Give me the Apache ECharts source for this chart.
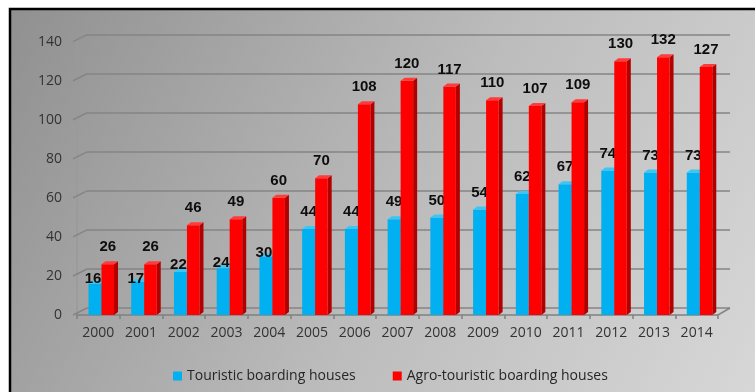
<!DOCTYPE html>
<html>
<head>
<meta charset="utf-8">
<style>
  html, body { margin: 0; padding: 0; background: #ffffff; }
  #chart { width: 755px; height: 392px; }
</style>
<script src="https://cdn.jsdelivr.net/npm/echarts@6/dist/echarts.min.js"></script>
</head>
<body>
<div id="chart"></div>
<script>
// Boarding houses per year
const years = ['2000', '2001', '2002', '2003', '2004', '2005', '2006', '2007',
               '2008', '2009', '2010', '2011', '2012', '2013', '2014'];
const touristic = [16, 17, 22, 24, 30, 44, 44, 49, 50, 54, 62, 67, 74, 73, 73];
const agro = [26, 26, 46, 49, 60, 70, 108, 120, 117, 110, 107, 109, 130, 132, 127];
const yTicks = [0, 20, 40, 60, 80, 100, 120, 140];
const seriesNames = ['Touristic boarding houses', 'Agro-touristic boarding houses'];

// Pseudo-3D look: depth of the bars and of the back wall, in pixels
const BAR_DX = 4, BAR_DY = 3;
const WALL_DX = 10, WALL_DY = 7;

// Label lift above the bar top (px); the first few blue labels sit lower
const blueLift = [5, 3, 7, 5, 4];
const DEFAULT_LIFT = 17;

const UI_FONT = '"Open Sans", "Liberation Sans", sans-serif';
const LABEL_FONT = 'bold 15px "Liberation Sans", Arial, sans-serif';

// Bar renderer: front face, right side face, top face and value label
function makeBarRenderer(opts) {
  return function (params, api) {
    const cat = api.value(0);
    const val = api.value(1);
    const base = api.coord([cat, 0]);
    const top = api.coord([cat, val]);
    const band = api.size([1, 0])[0];
    const start = base[0] - band / 2;
    const x0 = start + band * opts.from;
    const x1 = start + band * opts.to;
    const yb = base[1];
    const yt = top[1];
    const lift = opts.lift(params.dataIndex);
    return {
      type: 'group',
      children: [
        {
          type: 'polygon',
          shape: { points: [[x1, yt], [x1 + BAR_DX, yt - BAR_DY], [x1 + BAR_DX, yb - BAR_DY], [x1, yb]] },
          style: { fill: opts.side }
        },
        {
          type: 'rect',
          shape: { x: x0, y: yt, width: x1 - x0, height: yb - yt },
          style: { fill: opts.front }
        },
        {
          type: 'polygon',
          shape: { points: [[x0, yt], [x1, yt], [x1 + BAR_DX, yt - BAR_DY], [x0 + BAR_DX, yt - BAR_DY]] },
          style: { fill: opts.top }
        },
        {
          type: 'text',
          style: {
            text: String(val),
            x: (x0 + x1) / 2 + opts.labelDx(params.dataIndex),
            y: yt - lift,
            align: 'center',
            verticalAlign: 'middle',
            font: LABEL_FONT,
            fill: '#0d0d0d'
          },
          z2: 10
        }
      ]
    };
  };
}

// Side-wall stubs joining each y tick to the back-wall gridline, plus the floor edge
function renderFrame(params, api) {
  const cs = params.coordSys;
  const v = api.value(1);
  const p = api.coord([0, v]);
  const lineStyle = { stroke: '#858585', lineWidth: 1.5 };
  const children = [{
    type: 'line',
    shape: { x1: cs.x - 4, y1: p[1], x2: cs.x + WALL_DX, y2: p[1] - WALL_DY },
    style: lineStyle
  }];
  if (v === 0) {
    children.push({
      type: 'line',
      shape: { x1: cs.x + cs.width, y1: p[1], x2: cs.x + cs.width + WALL_DX + 2, y2: p[1] - WALL_DY },
      style: lineStyle
    });
  }
  return { type: 'group', children: children };
}

const chart = echarts.init(document.getElementById('chart'));

const bgGradient = new echarts.graphic.LinearGradient(0, 0, 1, 1, [
  { offset: 0, color: '#909090' },
  { offset: 0.5, color: '#bcbcbc' },
  { offset: 1, color: '#dcdcdc' }
]);

const option = {
  animation: false,
  backgroundColor: '#ffffff',
  graphic: [
    {
      type: 'rect',
      z: -100,
      silent: true,
      shape: { x: 10, y: 9, width: 800, height: 420 },
      style: { fill: bgGradient, stroke: '#000000', lineWidth: 2.5 }
    }
  ],
  grid: [
    { left: 77, right: 37, top: 41.7, bottom: 77 },
    { left: 77 + WALL_DX, right: 37 - WALL_DX - 2, top: 41.7 - WALL_DY, bottom: 77 + WALL_DY }
  ],
  legend: {
    data: seriesNames,
    left: 168,
    top: 364,
    icon: 'rect',
    itemWidth: 9,
    itemHeight: 9,
    itemGap: 37,
    textStyle: { fontFamily: UI_FONT, fontSize: 14, color: '#262626' }
  },
  xAxis: [
    {
      gridIndex: 0,
      type: 'category',
      data: years,
      axisLine: { show: true, lineStyle: { color: '#808080', width: 1.5 } },
      axisTick: { show: true, length: 4, lineStyle: { color: '#808080', width: 1.5 } },
      axisLabel: { margin: 11, fontFamily: UI_FONT, fontSize: 14, color: '#333333' },
      splitLine: { show: false }
    },
    {
      gridIndex: 1,
      type: 'category',
      data: years,
      show: false
    }
  ],
  yAxis: [
    {
      gridIndex: 0,
      type: 'value',
      min: 0,
      max: 140,
      interval: 20,
      axisLine: { show: true, lineStyle: { color: '#9a9a9a', width: 1.5 } },
      axisTick: { show: false },
      axisLabel: { margin: 15, fontFamily: UI_FONT, fontSize: 14, color: '#333333' },
      splitLine: { show: false }
    },
    {
      gridIndex: 1,
      type: 'value',
      min: 0,
      max: 140,
      interval: 20,
      axisLine: { show: false },
      axisTick: { show: false },
      axisLabel: { show: false },
      splitLine: { show: true, lineStyle: { color: '#858585', width: 1.5 } }
    }
  ],
  series: [
    {
      name: 'frame',
      type: 'custom',
      xAxisIndex: 0,
      yAxisIndex: 0,
      silent: true,
      z: 1,
      data: yTicks.map(function (v) { return [0, v]; }),
      renderItem: renderFrame
    },
    {
      name: seriesNames[0],
      type: 'custom',
      xAxisIndex: 0,
      yAxisIndex: 0,
      z: 3,
      itemStyle: { color: '#00b0f0' },
      data: touristic.map(function (v, i) { return [i, v]; }),
      renderItem: makeBarRenderer({
        from: 0.269, to: 0.573,
        front: '#00b0f0', side: '#0088bb', top: '#3cc6f6',
        lift: function (i) { return i < blueLift.length ? blueLift[i] : DEFAULT_LIFT; },
        labelDx: function (i) { return i < blueLift.length ? -2 : 0; }
      })
    },
    {
      name: seriesNames[1],
      type: 'custom',
      xAxisIndex: 0,
      yAxisIndex: 0,
      z: 4,
      itemStyle: { color: '#ff0000' },
      data: agro.map(function (v, i) { return [i, v]; }),
      renderItem: makeBarRenderer({
        from: 0.573, to: 0.866,
        front: '#ff0000', side: '#b00000', top: '#ff3b3b',
        lift: function () { return DEFAULT_LIFT; },
        labelDx: function () { return 0; }
      })
    }
  ]
};

chart.setOption(option);
</script>
</body>
</html>
